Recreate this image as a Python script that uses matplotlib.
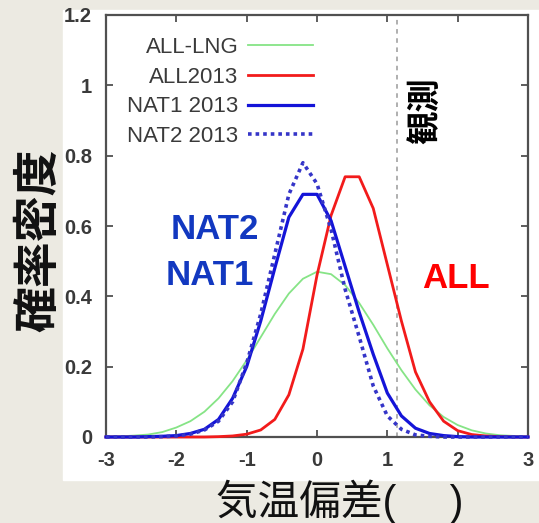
import numpy as np
import matplotlib
matplotlib.use("Agg")
import matplotlib.pyplot as plt
from matplotlib.patches import Rectangle

plt.rcParams["font.family"] = ["Liberation Sans", "Noto Sans CJK JP", "DejaVu Sans"]

W, H = 539, 523
BG, INK, GRY = "#ECEAE2", "#111111", "#3A3A3A"
GRN, RED, BLU, BLU2, TXTBLU = "#86E486", "#F21B1B", "#1414D8", "#3535C8", "#1238C0"

# temperature anomaly grid and densities
x_vals = [-3.0, -2.8, -2.6, -2.4, -2.2, -2.0, -1.8, -1.6, -1.4, -1.2, -1.0,
          -0.8, -0.6, -0.4, -0.2, 0.0, 0.2, 0.4, 0.6, 0.8, 1.0,
          1.2, 1.4, 1.6, 1.8, 2.0, 2.2, 2.4, 2.6, 2.8, 3.0]
all_lng = [0.001, 0.002, 0.004, 0.007, 0.014, 0.027, 0.045, 0.072, 0.110, 0.159, 0.218,
           0.284, 0.350, 0.408, 0.450, 0.470, 0.463, 0.432, 0.381, 0.319, 0.252,
           0.190, 0.135, 0.090, 0.057, 0.034, 0.019, 0.010, 0.005, 0.003, 0.001]
all_2013 = [0, 0, 0, 0, 0, 0, 0, 0, 0.001, 0.003, 0.008,
            0.020, 0.050, 0.120, 0.250, 0.460, 0.630, 0.740, 0.740, 0.650, 0.490,
            0.330, 0.185, 0.100, 0.045, 0.018, 0.007, 0.003, 0.001, 0, 0]
nat1_2013 = [0, 0, 0, 0.001, 0.002, 0.004, 0.010, 0.022, 0.050, 0.110, 0.200,
             0.330, 0.480, 0.625, 0.690, 0.690, 0.615, 0.485, 0.355, 0.235, 0.125,
             0.060, 0.025, 0.010, 0.004, 0.001, 0, 0, 0, 0, 0]
nat2_2013 = [0, 0, 0, 0, 0.001, 0.003, 0.008, 0.020, 0.045, 0.100, 0.210,
             0.350, 0.520, 0.690, 0.780, 0.720, 0.590, 0.420, 0.285, 0.145, 0.060,
             0.022, 0.006, 0.002, 0, 0, 0, 0, 0, 0, 0]
observed = 1.14

x_ticks = [-3, -2, -1, 0, 1, 2, 3]
y_ticks = [0, 0.2, 0.4, 0.6, 0.8, 1.0, 1.2]
y_ticklabels = ["0", "0.2", "0.4", "0.6", "0.8", "1", "1.2"]


def px(x, y):
    return x / W, 1 - y / H


fig = plt.figure(figsize=(W / 100, H / 100), dpi=100, facecolor=BG)
# white panel of the pasted chart
fig.patches.append(Rectangle(px(63, 480), (W - 63) / W, 470 / H,
                             transform=fig.transFigure, color="white", zorder=-10))

l, b = px(106, 437)
r, t = px(528, 15)
a = fig.add_axes([l, b, r - l, t - b])
a.set_facecolor("white")

a.axvline(observed, color="#9A9A9A", lw=1.1, ls=(0, (3, 3)), zorder=1)
a.plot(x_vals, all_lng, color=GRN, lw=1.3, label="ALL-LNG", clip_on=False, zorder=3)
a.plot(x_vals, all_2013, color=RED, lw=2.0, label="ALL2013", clip_on=False, zorder=4)
a.plot(x_vals, nat1_2013, color=BLU, lw=2.3, label="NAT1 2013", clip_on=False, zorder=5)
a.plot(x_vals, nat2_2013, color=BLU2, lw=2.6, ls=(0, (1, 1.1)), label="NAT2 2013",
       clip_on=False, zorder=5)

a.set_xlim(-3, 3); a.set_ylim(0, 1.2)
a.set_xticks(x_ticks); a.set_yticks(y_ticks)
a.set_xticklabels([str(v) for v in x_ticks], fontweight="bold")
a.set_yticklabels(y_ticklabels, fontweight="bold")
a.tick_params(direction="in", length=5, width=1.3, colors="#505050", top=True, right=True,
              labelsize=14.5, labelcolor=GRY)
a.tick_params(axis="x", pad=10)
a.tick_params(axis="y", pad=10)
for s in a.spines.values():
    s.set_color("#505050"); s.set_linewidth(1.6)

leg = a.legend(loc="upper left", bbox_to_anchor=px(127, 37), bbox_transform=fig.transFigure,
               frameon=False, markerfirst=False, fontsize=16, handlelength=2.9,
               handletextpad=0.45, labelspacing=0.39, borderaxespad=0, borderpad=0)
for txt in leg.get_texts():
    txt.set_color(GRY)

a.text(-1.45, 0.59, "NAT2", color=TXTBLU, fontsize=25, fontweight="bold", ha="center", va="center")
a.text(-1.52, 0.46, "NAT1", color=TXTBLU, fontsize=25, fontweight="bold", ha="center", va="center")
a.text(1.97, 0.45, "ALL", color="#FF0000", fontsize=25, fontweight="bold", ha="center", va="center")
a.text(1.55, 0.927, "観測", color="black", fontsize=24, fontweight="bold", rotation=90,
       ha="center", va="center")

fig.text(*px(40, 240), "確率密度", fontsize=33, fontweight="bold", color=INK, rotation=90,
         ha="center", va="center")
fig.text(*px(340, 502), "気温偏差(\u3000 )", fontsize=30, color=INK,
         ha="center", va="center")

fig.savefig("out.png", dpi=100, facecolor=BG)
